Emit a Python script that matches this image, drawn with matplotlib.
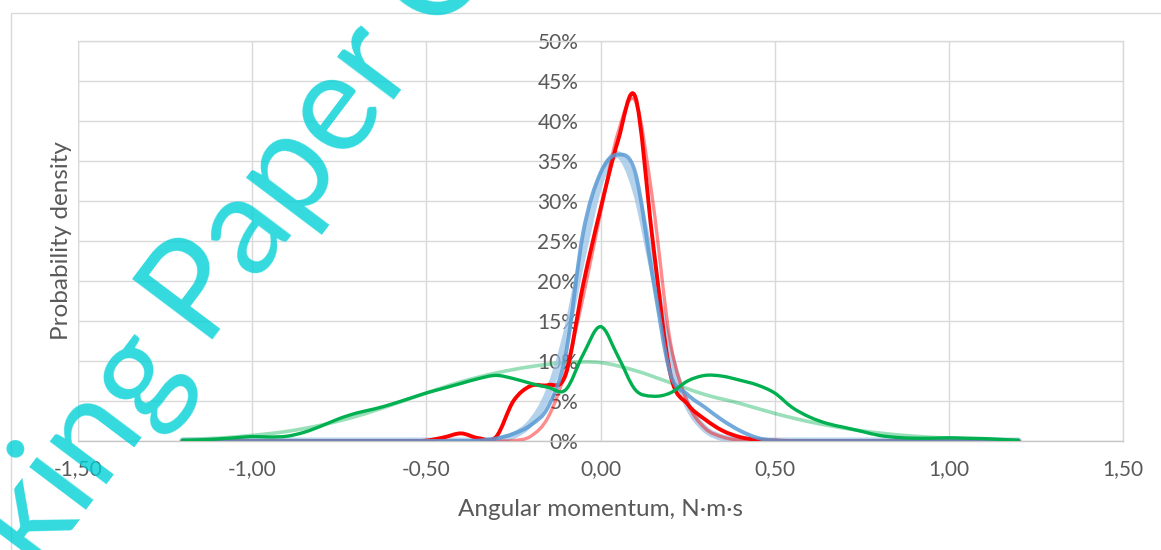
import numpy as np
import matplotlib
matplotlib.use("Agg")
import matplotlib.pyplot as plt
from matplotlib.path import Path
from matplotlib.patches import PathPatch, Rectangle

# ---------------- data (probability density, %) ----------------
x_grid = np.round(np.arange(-1.2, 1.2001, 0.05), 2)      # 49 points
x_fit_green = np.round(np.arange(-1.2, 1.2001, 0.1), 2)  # 25 points

red_data = [0, 0, 0, 0, 0, 0, 0, 0, 0, 0, 0, 0, 0, 0,
            0.05, 0.45, 0.95, 0.35, 0.5, 5.0, 6.9, 7.0, 8.3, 19.5, 29.0,
            37.5, 43.0, 25.0, 8.5, 4.6, 2.7, 1.3, 0.5, 0.15, 0.05,
            0, 0, 0, 0, 0, 0, 0, 0, 0, 0, 0, 0, 0, 0]

red_fit = [0] * 19 + [0.05, 0.6, 3.0, 8.8, 18.0, 28.5, 38.5, 42.5, 30.0, 12.5,
                      4.8, 1.6, 0.5, 0.1] + [0] * 16

blue_data = [0] * 17 + [0.05, 0.3, 0.9, 2.0, 4.3, 10.8, 26.0, 33.5, 35.8, 33.5,
                        20.5, 8.5, 5.8, 4.2, 2.6, 1.3, 0.4, 0.05] + [0] * 14

blue_fit = [0] * 17 + [0.03, 0.15, 0.7, 2.3, 6.0, 13.0, 23.5, 32.5, 35.8, 31.5,
                       21.5, 11.0, 4.5, 1.5, 0.4, 0.1, 0.02, 0] + [0] * 14

green_data = [0.1, 0.15, 0.25, 0.4, 0.55, 0.5, 0.6, 1.1, 1.9, 2.8,
              3.5, 4.0, 4.6, 5.3, 6.0, 6.6, 7.2, 7.8, 8.2, 7.8,
              7.2, 6.7, 6.4, 10.8, 14.3, 10.6, 6.4, 5.6, 6.0, 7.5,
              8.2, 8.1, 7.6, 7.0, 6.0, 4.2, 3.0, 2.2, 1.7, 1.2,
              0.7, 0.45, 0.35, 0.35, 0.4, 0.35, 0.3, 0.2, 0.1]

green_fit = [0.2, 0.35, 0.7, 1.2, 2.0, 3.1, 4.5, 6.0, 7.4, 8.5, 9.3, 9.8, 9.8,
             8.8, 7.3, 5.8, 4.7, 3.45, 2.4, 1.6, 1.0, 0.6, 0.35, 0.2, 0.1]

x_ticks = [-1.5, -1.0, -0.5, 0.0, 0.5, 1.0, 1.5]
x_tick_labels = ["-1,50", "-1,00", "-0,50", "0,00", "0,50", "1,00", "1,50"]
y_ticks = [0, 5, 10, 15, 20, 25, 30, 35, 40, 45, 50]
y_tick_labels = [f"{v}%" for v in y_ticks]

# ---------------- figure ----------------
plt.rcParams['font.family'] = ['Lato', 'DejaVu Sans']
W, H = 1161, 550
fig = plt.figure(figsize=(W / 100, H / 100), dpi=100)
fig.patch.set_facecolor('white')

# outer chart border
fig.patches.append(Rectangle((11 / W, -0.05), 1.2, 1 - 13 / H + 0.05,
                             transform=fig.transFigure, fill=False,
                             edgecolor='#d9d9d9', lw=1.0))

ax = fig.add_axes([78 / W, 1 - 441 / H, (1123 - 78) / W, 400 / H])
ax.set_xlim(-1.5, 1.5)
ax.set_ylim(0, 50)
ax.set_facecolor('white')

grid_c = '#d9d9d9'
ax.set_xticks(x_ticks)
ax.set_xticklabels(x_tick_labels)
ax.set_yticks(y_ticks)
ax.set_yticklabels(y_tick_labels)
ax.grid(True, color=grid_c, lw=1.0, zorder=0)
ax.set_axisbelow(True)
for s in ['top', 'right']:
    ax.spines[s].set_color(grid_c)
    ax.spines[s].set_linewidth(1.0)
ax.spines['bottom'].set_color('#c6c6c6')
ax.spines['bottom'].set_linewidth(1.0)
ax.spines['left'].set_position(('data', 0))
ax.spines['left'].set_visible(False)
ax.axvline(-1.5, color=grid_c, lw=1.0, zorder=0)

text_c = '#595959'
ax.tick_params(axis='x', length=0, pad=13, labelsize=15, labelcolor=text_c)
ax.tick_params(axis='y', length=0, pad=16, labelsize=15, labelcolor=text_c)

ax.set_xlabel("Angular momentum, N·m·s", fontsize=17.5, color=text_c)
ax.xaxis.set_label_coords(0.5, -0.145)
ax.set_ylabel("Probability density", fontsize=17.5, color=text_c)
ax.yaxis.set_label_coords(-0.006, 0.5)


def smooth_path(xs, ys):
    pts = np.column_stack([np.asarray(xs, float), np.asarray(ys, float)])
    n = len(pts)
    verts = [pts[0]]
    codes = [Path.MOVETO]
    for i in range(n - 1):
        p0 = pts[i - 1] if i > 0 else pts[i]
        p1 = pts[i]
        p2 = pts[i + 1]
        p3 = pts[i + 2] if i + 2 < n else pts[i + 1]
        c1 = p1 + (p2 - p0) / 6.0
        c2 = p2 - (p3 - p1) / 6.0
        verts += [c1, c2, p2]
        codes += [Path.CURVE4] * 3
    return Path(verts, codes)


def draw(xs, ys, color, lw, alpha=1.0, z=3):
    patch = PathPatch(smooth_path(xs, ys), facecolor='none', edgecolor=color,
                      lw=lw, alpha=alpha, transform=ax.transData, zorder=z,
                      capstyle='round', joinstyle='round')
    ax.add_patch(patch)


draw(x_fit_green, green_fit, '#00B050', 2.6, alpha=0.4, z=3)
draw(x_grid, blue_fit, '#9DC3E6', 5.0, alpha=0.75, z=4)
draw(x_grid, red_fit, '#FF0000', 2.4, alpha=0.45, z=5)
draw(x_grid, red_data, '#FF0000', 2.8, z=6)
draw(x_grid, blue_data, '#5B9BD5', 2.8, alpha=0.85, z=7)
draw(x_grid, green_data, '#00B050', 2.4, z=8)

# ---------------- watermark ----------------
wm_c = (0.0, 0.82, 0.84)
ang = 53
fx, fy = 206, H - 350
fig.text(fx / W, fy / H, "Paper Copy", fontsize=100, color=wm_c, alpha=0.8,
         rotation=ang, rotation_mode='anchor', ha='left', va='baseline',
         family=['Lato', 'DejaVu Sans'], zorder=20)
dx = -25 * np.cos(np.radians(ang))
dy = -25 * np.sin(np.radians(ang))
fig.text((fx + dx) / W, (fy + dy) / H, "Working", fontsize=100, color=wm_c,
         alpha=0.8, rotation=ang, rotation_mode='anchor', ha='right',
         va='baseline', family=['Lato', 'DejaVu Sans'], zorder=20)

fig.savefig("out.png", dpi=100, facecolor='white')
